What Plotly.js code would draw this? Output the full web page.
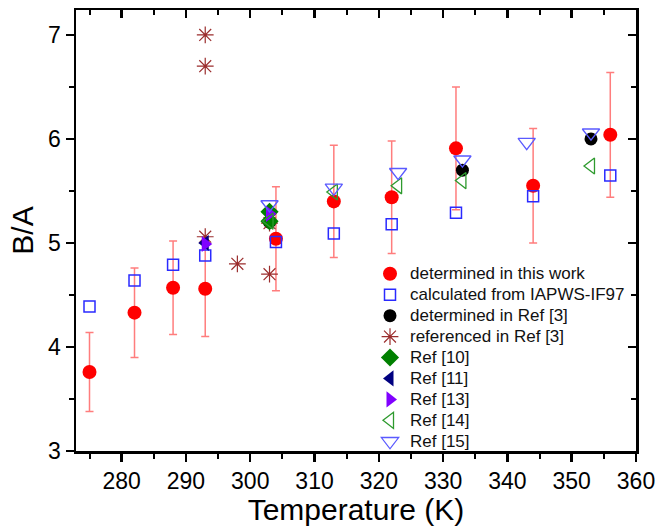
<!DOCTYPE html>
<html>
<head>
<meta charset="utf-8">
<script src="https://cdn.plot.ly/plotly-3.0.1.min.js"></script>
<style>html,body{margin:0;padding:0;background:#fff;}#chart{width:660px;height:526px;}</style>
</head>
<body>
<div id="chart"></div>
<script>
// Data
const T_work = [275, 282, 288, 293, 304, 313, 322, 332, 344, 356];
const BA_work = [3.76, 4.33, 4.57, 4.56, 5.04, 5.40, 5.44, 5.91, 5.55, 6.04];
const err_work = [0.38, 0.43, 0.45, 0.46, 0.50, 0.54, 0.54, 0.59, 0.55, 0.60];

const T_iapws = [275, 282, 288, 293, 304, 313, 322, 332, 344, 356];
const BA_iapws = [4.39, 4.64, 4.79, 4.88, 5.01, 5.09, 5.18, 5.29, 5.45, 5.65];

const T_ref3 = [303, 333, 353];
const BA_ref3 = [5.20, 5.70, 6.00];

const T_ref3cited = [293, 293, 293, 298, 303, 303];
const BA_ref3cited = [7.00, 6.70, 5.06, 4.80, 4.70, 5.19];

const T_ref10 = [303, 303];
const BA_ref10 = [5.30, 5.21];

const T_ref11 = [293];
const BA_ref11 = [5.00];

const T_ref13 = [293, 303];
const BA_ref13 = [4.99, 5.28];

const T_ref14 = [303, 313, 323, 333, 353];
const BA_ref14 = [5.21, 5.49, 5.55, 5.60, 5.74];

const T_ref15 = [303, 313, 323, 333, 343, 353];
const BA_ref15 = [5.37, 5.53, 5.68, 5.80, 5.97, 6.06];

const legendNames = [
  'determined in this work',
  'calculated from IAPWS-IF97',
  'determined in Ref [3]',
  'referenced in Ref [3]',
  'Ref [10]',
  'Ref [11]',
  'Ref [13]',
  'Ref [14]',
  'Ref [15]'
];

const xRange = [272.9, 360];
const yRange = [3, 7.24];

function lg(s) { return '<span style="font-size:17px">' + s + '</span>'; }

const traces = [
  {x: T_work, y: BA_work, name: lg(legendNames[0]), type: 'scatter', mode: 'markers',
   marker: {symbol: 'circle', size: 14, color: '#ff0000'},
   error_y: {type: 'data', array: err_work, visible: true, color: 'rgba(255,70,70,0.7)', thickness: 1.5, width: 4}},
  {x: T_iapws, y: BA_iapws, name: lg(legendNames[1]), type: 'scatter', mode: 'markers',
   marker: {symbol: 'square-open', size: 11, color: '#2a2aff', line: {width: 1.5}}},
  {x: T_ref3, y: BA_ref3, name: lg(legendNames[2]), type: 'scatter', mode: 'markers',
   marker: {symbol: 'circle', size: 13, color: '#000000'}},
  {x: T_ref3cited, y: BA_ref3cited, name: lg(legendNames[3]), type: 'scatter', mode: 'markers',
   marker: {symbol: 'asterisk-open', size: 14, color: '#9b2d2d', line: {width: 1.2, color: '#9b2d2d'}}},
  {x: T_ref10, y: BA_ref10, name: lg(legendNames[4]), type: 'scatter', mode: 'markers',
   marker: {symbol: 'diamond', size: 14, color: '#008000'}},
  {x: T_ref11, y: BA_ref11, name: lg(legendNames[5]), type: 'scatter', mode: 'markers',
   marker: {symbol: 'triangle-left', size: 14, color: '#000080'}},
  {x: T_ref13, y: BA_ref13, name: lg(legendNames[6]), type: 'scatter', mode: 'markers',
   marker: {symbol: 'triangle-right', size: 14, color: '#8000ff'}},
  {x: T_ref14, y: BA_ref14, name: lg(legendNames[7]), type: 'scatter', mode: 'markers',
   marker: {symbol: 'triangle-left-open', size: 14, color: '#2e9a2e', line: {width: 1.3}}},
  {x: T_ref15, y: BA_ref15, name: lg(legendNames[8]), type: 'scatter', mode: 'markers',
   marker: {symbol: 'triangle-down-open', size: 15, color: '#5a5aff', line: {width: 1.3}}},
  {x: [], y: [], xaxis: 'x2', yaxis: 'y2', showlegend: false, hoverinfo: 'skip', type: 'scatter', mode: 'markers'}
];

const font = {family: '"Liberation Sans", Arial, sans-serif', color: '#000'};

const layout = {
  width: 660, height: 526,
  margin: {l: 76, r: 24, t: 10, b: 75},
  paper_bgcolor: '#fff', plot_bgcolor: '#fff',
  font: font,
  showlegend: true,
  legend: {x: 0.525, y: 0.437, xanchor: 'left', yanchor: 'top', bgcolor: 'rgba(0,0,0,0)',
           font: {family: font.family, size: 13.8, color: '#111'}, tracegroupgap: 0, itemwidth: 30},
  xaxis: {range: xRange, showgrid: false, zeroline: false, showline: true, linecolor: '#000', linewidth: 2.5,
          ticks: 'outside', ticklen: 8, tickwidth: 2.5, tickcolor: '#000', dtick: 10, tick0: 280,
          tickfont: {family: font.family, size: 23, color: '#000'},
          minor: {dtick: 5, tick0: 275, ticks: 'outside', ticklen: 5, tickwidth: 2, tickcolor: '#000', showgrid: false},
          title: {text: 'Temperature (K)', font: {family: font.family, size: 30, color: '#000'}, standoff: 0}},
  yaxis: {range: yRange, showgrid: false, zeroline: false, showline: true, linecolor: '#000', linewidth: 2.5,
          ticks: 'outside', ticklen: 8, tickwidth: 2.5, tickcolor: '#000', dtick: 1, tick0: 3,
          tickfont: {family: font.family, size: 23, color: '#000'},
          minor: {dtick: 0.5, tick0: 3, ticks: 'outside', ticklen: 5, tickwidth: 2, tickcolor: '#000', showgrid: false},
          title: {text: 'B/A', font: {family: font.family, size: 30, color: '#000'}, standoff: 6}},
  xaxis2: {range: xRange, overlaying: 'x', side: 'top', showgrid: false, zeroline: false, showline: true,
           linecolor: '#000', linewidth: 2.5, ticks: 'inside', ticklen: 8, tickwidth: 2.5, tickcolor: '#000',
           dtick: 10, tick0: 280, showticklabels: false,
           minor: {dtick: 5, tick0: 275, ticks: 'inside', ticklen: 5, tickwidth: 2, tickcolor: '#000', showgrid: false}},
  yaxis2: {range: yRange, overlaying: 'y', side: 'right', showgrid: false, zeroline: false, showline: true,
           linecolor: '#000', linewidth: 2.5, ticks: 'inside', ticklen: 8, tickwidth: 2.5, tickcolor: '#000',
           dtick: 1, tick0: 3, showticklabels: false,
           minor: {dtick: 0.5, tick0: 3, ticks: 'inside', ticklen: 5, tickwidth: 2, tickcolor: '#000', showgrid: false}}
};

Plotly.newPlot('chart', traces, layout, {displayModeBar: false, staticPlot: true});
</script>
</body>
</html>
